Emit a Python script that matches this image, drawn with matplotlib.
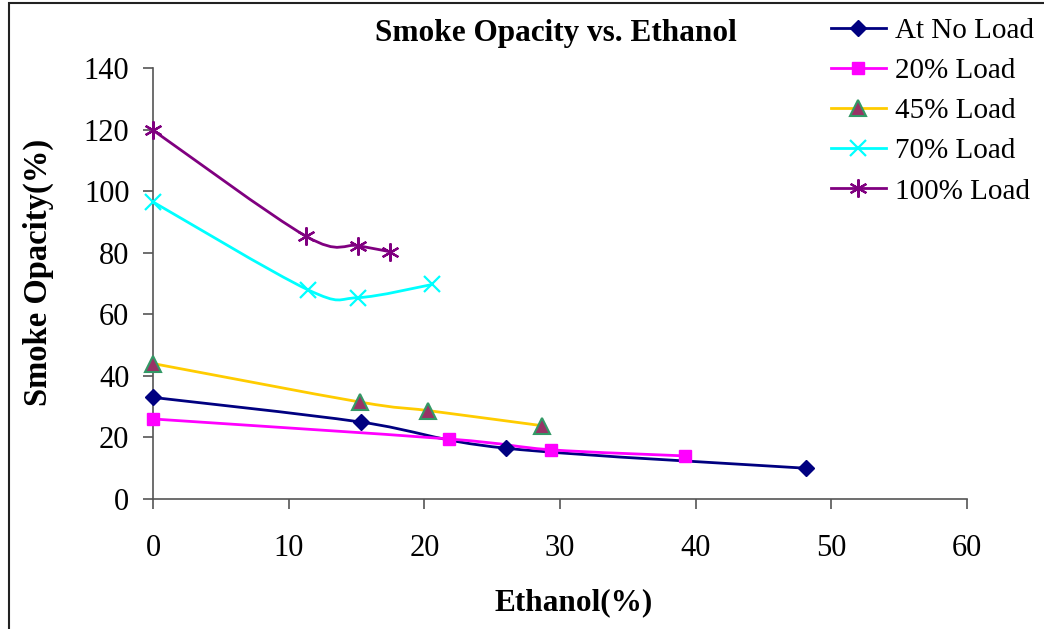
import numpy as np
import matplotlib
matplotlib.use("Agg")
import matplotlib.pyplot as plt
from matplotlib.path import Path
from matplotlib.patches import PathPatch, Rectangle
from matplotlib.lines import Line2D

# data
x_noload = [0, 15.3, 26.0, 48.1]
y_noload = [33.0, 25.0, 16.5, 10.0]
x_20 = [0, 21.8, 29.3, 39.2]
y_20 = [26.0, 19.5, 16.0, 14.0]
x_45 = [0, 15.25, 20.3, 28.7]
y_45 = [44.0, 31.5, 28.7, 23.8]
x_70 = [0, 11.4, 15.1, 20.6]
y_70 = [96.5, 68.0, 65.4, 69.7]
x_100 = [0, 11.3, 15.1, 17.5]
y_100 = [119.8, 85.3, 82.3, 80.3]

labels = ["At No Load", "20% Load", "45% Load", "70% Load", "100% Load"]


def smooth_path(xs, ys):
    # Excel style smoothed line: cubic bezier with catmull-rom control points
    p = np.column_stack([xs, ys]).astype(float)
    n = len(p)
    verts = [p[0]]
    codes = [Path.MOVETO]
    for i in range(n - 1):
        p0 = p[i - 1] if i > 0 else p[i]
        p1 = p[i]
        p2 = p[i + 1]
        p3 = p[i + 2] if i + 2 < n else p[i + 1]
        c1 = p1 + (p2 - p0) / 6.0
        c2 = p2 - (p3 - p1) / 6.0
        verts += [c1, c2, p2]
        codes += [Path.CURVE4] * 3
    return Path(verts, codes)


plt.rcParams["font.family"] = ["Liberation Serif", "DejaVu Serif"]

fig = plt.figure(figsize=(10.44, 6.29), dpi=100)
ax = fig.add_axes([153/1044, 1-499/629, (967-153)/1044, (499-68)/629])

series = [
    (x_noload, y_noload, dict(color="#000080", marker="D", ms=8.5, mfc="#000080", mec="#000080")),
    (x_20, y_20, dict(color="#FF00FF", marker="s", ms=9, mfc="#FF00FF", mec="#FF00FF")),
    (x_45, y_45, dict(color="#FFCC00", marker="^", ms=11, mfc="#993366", mec="#339966", mew=1.5)),
    (x_70, y_70, dict(color="#00FFFF", marker="x", ms=11, mew=1.6, mec="#00FFFF")),
    (x_100, y_100, dict(color="#800080", marker=(6, 2, 0), ms=13, mew=1.6, mec="#800080")),
]

handles = []
for (xs, ys, st), lab in zip(series, labels):
    patch = PathPatch(smooth_path(xs, ys), facecolor="none", edgecolor=st["color"], lw=2)
    ax.add_patch(patch)
    ax.plot(xs, ys, ls="none", clip_on=False, zorder=3,
            **{k: v for k, v in st.items() if k != "color"})
    handles.append(Line2D([], [], lw=2, **st))

ax.set_xlim(0, 60)
ax.set_ylim(0, 140)
ax.set_xticks(np.arange(0, 61, 10))
ax.set_yticks(np.arange(0, 141, 20))
for s in ["top", "right"]:
    ax.spines[s].set_visible(False)
for s in ["left", "bottom"]:
    ax.spines[s].set_color("#555555")
    ax.spines[s].set_linewidth(1.2)
ax.tick_params(axis="x", direction="out", length=7, width=1.2, color="#555555",
               labelsize=22, pad=18)
ax.tick_params(axis="y", direction="out", length=7, width=1.2, color="#555555",
               labelsize=22, pad=10)

fig.text(556/1044, 1-33/629, "Smoke Opacity vs. Ethanol", ha="center", va="center",
         fontsize=22.5, fontweight="bold")
fig.text(574/1044, 1-603/629, "Ethanol(%)", ha="center", va="center",
         fontsize=22.5, fontweight="bold")
fig.text(38/1044, 1-272/629, "Smoke Opacity(%)", ha="center", va="center",
         rotation=90, fontsize=23.5, fontweight="bold")

fig.legend(handles, labels, loc="upper left", bbox_to_anchor=(819/1044, 1-6/629),
           frameon=False, fontsize=21, handlelength=1.9, handletextpad=0.3,
           labelspacing=0.47, numpoints=1, borderaxespad=0)

fig.patches.append(Rectangle((9/1044, -0.1), 1.2, 1.1-3/629, transform=fig.transFigure,
                             fill=False, ec="#222222", lw=1.5))

fig.savefig("out.png", dpi=100)
